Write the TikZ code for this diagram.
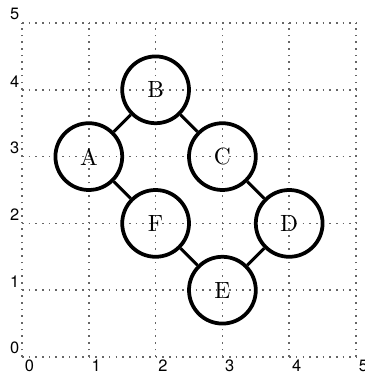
\documentclass[tikz,border=0pt]{standalone}
\usepackage{fontspec}
\setsansfont{TeX Gyre Heros}
\usepackage{tikz}
\usetikzlibrary{positioning}

\begin{document}
\begin{tikzpicture}[
  vertex/.style={circle, draw=black, line width=1.6pt, fill=none,
    minimum size=1cm, inner sep=0pt, font=\normalsize},
  edge/.style={line width=1.3pt},
  gridline/.style={gray!80!black, line width=0.7pt,
    dash pattern=on 0.7pt off 2.145pt},
  ticklbl/.style={font=\sffamily\scriptsize, inner sep=1pt},
]
\useasboundingbox (-0.33,-0.285) rectangle (5.135,5.345);

% Dotted grid
\foreach \k in {0,...,5}{
  \draw[gridline] (\k,0) -- (\k,5);
  \draw[gridline] (0,\k) -- (5,\k);
}

% Axis labels
\foreach \k in {0,...,5}{
  \node[ticklbl, anchor=north west] (xl\k) at (\k,0) {\k};
  \node[ticklbl, anchor=south east] (yl\k) at (0,\k) {\k};
}

% Vertices
\node[vertex] (A) at (1,3) {A};
\node[vertex] (B) at (2,4) {B};
\node[vertex] (C) at (3,3) {C};
\node[vertex] (D) at (4,2) {D};
\node[vertex] (E) at (3,1) {E};
\node[vertex] (F) at (2,2) {F};

% Edges
\draw[edge] (A) -- (B);
\draw[edge] (B) -- (C);
\draw[edge] (C) -- (D);
\draw[edge] (D) -- (E);
\draw[edge] (E) -- (F);
\draw[edge] (F) -- (A);

\end{tikzpicture}
\end{document}
